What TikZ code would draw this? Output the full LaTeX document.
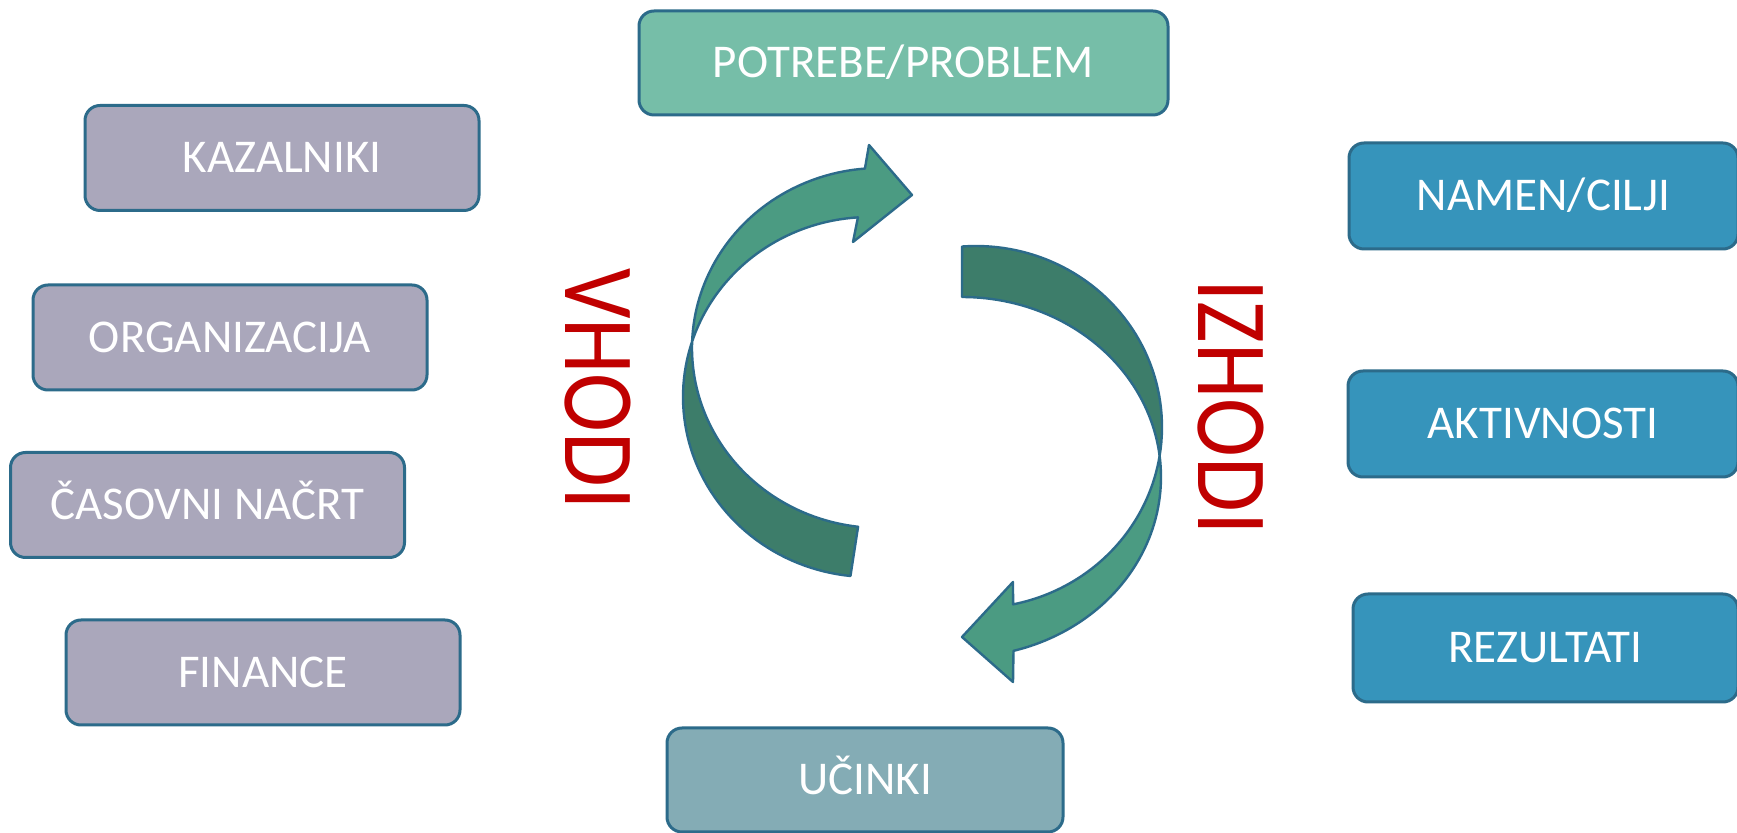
\documentclass[tikz,border=0pt]{standalone}
\usepackage{fontspec}
\setmainfont{Carlito}
\definecolor{bordc}{HTML}{2C6B8A}
\definecolor{graybox}{HTML}{AAA7BB}
\definecolor{tealbox}{HTML}{76BEA8}
\definecolor{bluebox}{HTML}{3694BB}
\definecolor{ucibox}{HTML}{84ACB5}
\definecolor{lightg}{HTML}{4B9B82}
\definecolor{darkg}{HTML}{3D7D6A}
\definecolor{redtxt}{HTML}{C00000}
\begin{document}
\begin{tikzpicture}[x=0.5pt,y=-0.5pt,
  box/.style={draw=bordc, line width=1.5pt, rounded corners=7.5pt,
    minimum width=197pt, minimum height=52.5pt, inner sep=0pt,
    text=white, font=\fontsize{23.5}{28}\selectfont,
    text height=14.85pt, text depth=0pt},
  sidetext/.style={text=redtxt, font=\fontsize{50.5}{60}\selectfont,
    inner sep=0pt, text height=31.9pt, text depth=0pt, rotate=-90, xscale=0.88},
  band/.style={draw=bordc, line width=1.2pt, line join=round}]
\useasboundingbox (0,0) rectangle (1737,833);
\clip (0,0) rectangle (1737,833);
\fill[white] (0,0) rectangle (1737,833);

% left boxes
\node[box, fill=graybox] (kaz) at (282,158) {KAZALNIKI};
\node[box, fill=graybox] (org) at (230,337.5) {ORGANIZACIJA};
\node[box, fill=graybox] (cas) at (207.5,505) {ČASOVNI NAČRT};
\node[box, fill=graybox] (fin) at (263,672.5) {FINANCE};

% top and bottom
\node[box, fill=tealbox, minimum width=264.5pt, minimum height=52pt] (pot) at (903.5,63) {POTREBE/PROBLEM};
\node[box, fill=ucibox, minimum width=198pt, minimum height=52pt] (uci) at (865,780) {UČINKI};

% right boxes
\node[box, fill=bluebox, minimum width=194.5pt, minimum height=53pt] (nam) at (1543.5,196) {NAMEN/CILJI};
\node[box, fill=bluebox, minimum width=195pt, minimum height=53pt] (akt) at (1543,424) {AKTIVNOSTI};
\node[box, fill=bluebox, minimum width=192.5pt, minimum height=54pt] (rez) at (1545.5,648) {REZULTATI};

% left curved arrow
\filldraw[band, fill=darkg]
  plot[domain=198.4:96, samples=50] ({870+187*cos(\x)},{397+180*sin(\x)})
  -- plot[domain=96.7:182.5, samples=50] ({880+188*cos(\x)},{348+180*sin(\x)})
  -- cycle;
\filldraw[band, fill=lightg]
  plot[domain=182.5:265.4, samples=50] ({880+188*cos(\x)},{348+180*sin(\x)})
  -- (869,145) -- (912,195) -- (853,242)
  -- plot[domain=266.3:198.4, samples=50] ({870+187*cos(\x)},{397+180*sin(\x)})
  -- cycle;

% right curved arrow
\filldraw[band, fill=darkg]
  plot[domain=-94.3:9.2, samples=50] ({976+186*cos(\x)},{427+181*sin(\x)})
  -- plot[domain=-6.7:-90, samples=50] ({962+199*cos(\x)},{477+180*sin(\x)})
  -- cycle;
\filldraw[band, fill=lightg]
  plot[domain=9.2:78.5, samples=50] ({976+186*cos(\x)},{427+181*sin(\x)})
  -- (1013,582) -- (962,637) -- (1013,682)
  -- plot[domain=75:-6.7, samples=50] ({962+199*cos(\x)},{477+180*sin(\x)})
  -- cycle;

% side labels
\node[sidetext] (vhodi) at (597,389) {VHODI};
\node[sidetext] (izhodi) at (1230,407) {IZHODI};
\end{tikzpicture}
\end{document}
